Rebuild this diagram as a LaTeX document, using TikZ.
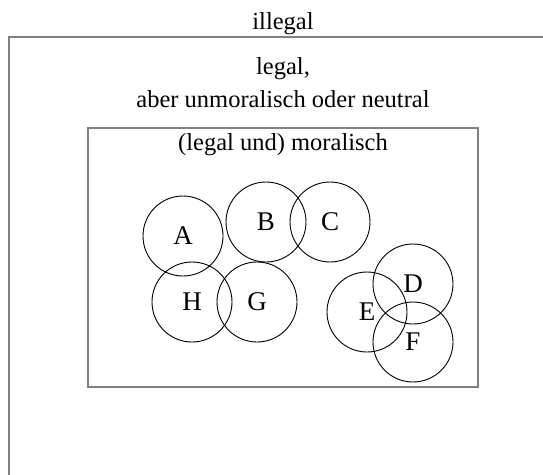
\documentclass[tikz,border=0pt]{standalone}
\usepackage{fontspec}
\setmainfont{Liberation Serif}
\definecolor{framegray}{HTML}{808080}
\begin{document}
\begin{tikzpicture}[x=1pt,y=-1pt,
  frame/.style={draw=framegray, line width=1.5pt},
  setcirc/.style={draw=black, line width=0.9pt, circle, minimum size=80pt, inner sep=0pt, font=\fontsize{27}{31}\selectfont},
  txt/.style={anchor=base, inner sep=0pt, font=\fontsize{24.5}{28}\selectfont}]
\useasboundingbox (0,0) rectangle (543,474);
\begin{scope}
  \clip (0,0) rectangle (543,474);
  \draw[frame] (9,37) rectangle (600,520);
\end{scope}
\draw[frame] (88,128) rectangle (478,387);
\node[txt] (illegal) at (283,29) {illegal};
\node[txt] (legal) at (283,74) {legal,};
\node[txt] (aber) at (283,107) {aber unmoralisch oder neutral};
\node[txt] (moral) at (283,150) {(legal und) moralisch};
\node[setcirc] (A) at (183,236) {A};
\node[setcirc] (B) at (266,222) {B};
\node[setcirc] (C) at (330,222) {C};
\node[setcirc] (H) at (192,302) {H};
\node[setcirc] (G) at (257,302) {G};
\node[setcirc] (E) at (367,312) {E};
\node[setcirc] (D) at (413,284) {D};
\node[setcirc] (F) at (413,342) {F};
\end{tikzpicture}
\end{document}
